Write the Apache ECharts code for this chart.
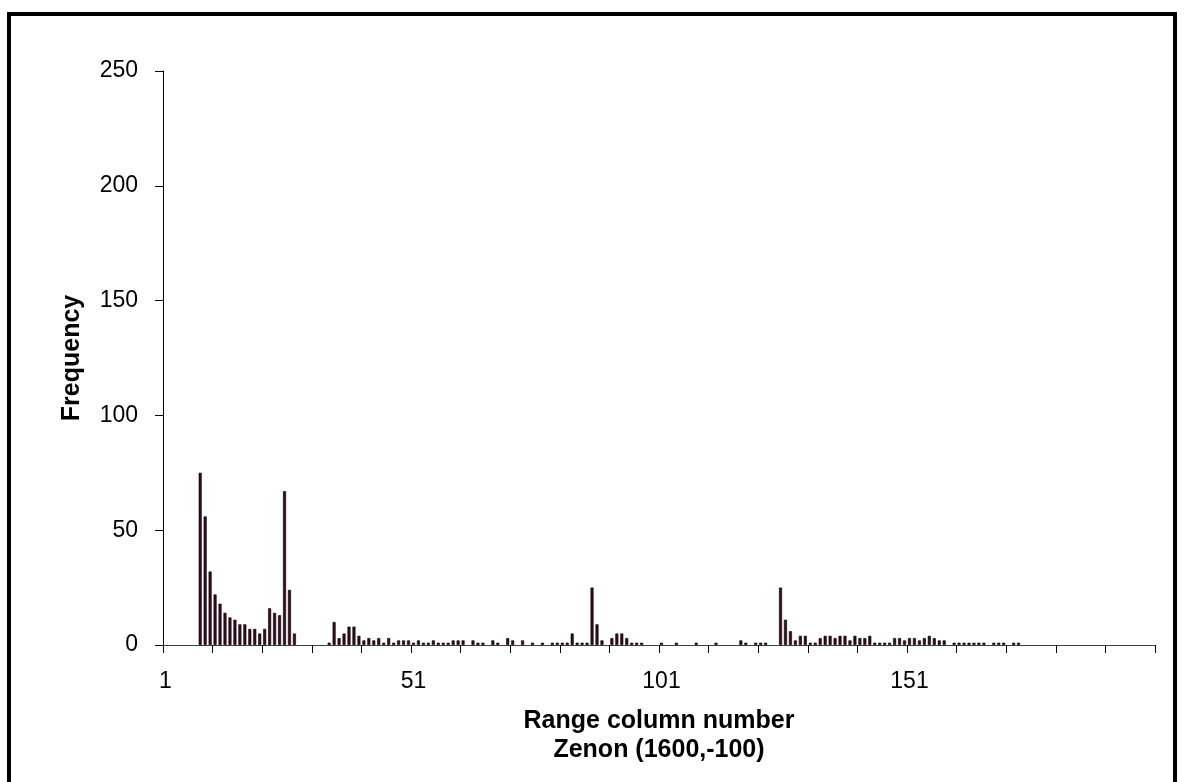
<!DOCTYPE html>
<html>
<head>
<meta charset="utf-8">
<script src="https://cdn.jsdelivr.net/npm/echarts@6/dist/echarts.min.js"></script>
<style>
html,body{margin:0;padding:0;background:#fff;}
#chart{width:1185px;height:782px;}
</style>
</head>
<body>
<div id="chart"></div>
<script>
// Range column numbers 1..200
const categories = Array.from({length: 200}, (_, i) => String(i + 1));

// Frequency values indexed by range column number (sparse listing, rest are 0)
const freqColumns = [
  8, 9, 10, 11, 12, 13, 14, 15, 16, 17, 18, 19, 20, 21, 22, 23, 24, 25, 26, 27,
  34, 35, 36, 37, 38, 39, 40, 41, 42, 43, 44, 45, 46, 47, 48, 49, 50,
  51, 52, 53, 54, 55, 56, 57, 58, 59, 60, 61, 63, 64, 65, 67, 68, 70, 71, 73,
  75, 77, 79, 80, 81, 82, 83, 84, 85, 86, 87, 88, 89, 91, 92, 93, 94, 95, 96, 97,
  101, 104, 108, 112, 117, 118, 120, 121, 122,
  125, 126, 127, 128, 129, 130, 131, 132, 133, 134, 135, 136, 137, 138, 139, 140,
  141, 142, 143, 144, 145, 146, 147, 148, 149, 150, 151, 152, 153, 154, 155, 156, 157, 158,
  160, 161, 162, 163, 164, 165, 166, 168, 169, 170, 172, 173
];
const freqValues = [
  75, 56, 32, 22, 18, 14, 12, 11, 9, 9, 7, 7, 5, 7, 16, 14, 13, 67, 24, 5,
  1, 10, 3, 5, 8, 8, 4, 2, 3, 2, 3, 1, 3, 1, 2, 2, 2,
  1, 2, 1, 1, 2, 1, 1, 1, 2, 2, 2, 2, 1, 1, 2, 1, 3, 2, 2,
  1, 1, 1, 1, 1, 1, 5, 1, 1, 1, 25, 9, 2, 3, 5, 5, 3, 1, 1, 1,
  1, 1, 1, 1, 2, 1, 1, 1, 1,
  25, 11, 6, 2, 4, 4, 1, 1, 3, 4, 4, 3, 4, 4, 2, 4,
  3, 3, 4, 1, 1, 1, 1, 3, 3, 2, 3, 3, 2, 3, 4, 3, 2, 2,
  1, 1, 1, 1, 1, 1, 1, 1, 1, 1, 1, 1
];

const yTicks = [0, 50, 100, 150, 200, 250];

const series = categories.map(() => '-');
freqColumns.forEach((c, i) => { series[c - 1] = freqValues[i]; });

const chart = echarts.init(document.getElementById('chart'), null, {renderer: 'canvas'});
const FONT = '"Liberation Sans", Arial, sans-serif';
chart.setOption({
  animation: false,
  backgroundColor: '#fff',
  grid: {left: 163, right: 30, top: 71, bottom: 137, containLabel: false},
  xAxis: {
    type: 'category',
    data: categories,
    boundaryGap: true,
    axisLine: {lineStyle: {color: '#404040', width: 1}},
    axisTick: {show: true, interval: 9, length: 8, lineStyle: {color: '#000'}},
    axisLabel: {interval: 49, color: '#000', fontSize: 23, fontFamily: FONT, margin: 25},
    splitLine: {show: false}
  },
  yAxis: {
    type: 'value',
    min: yTicks[0],
    max: yTicks[yTicks.length - 1],
    interval: 50,
    axisLine: {show: true, lineStyle: {color: '#000', width: 1}},
    axisTick: {show: true, length: 8, lineStyle: {color: '#000'}},
    axisLabel: {color: '#000', fontSize: 23, fontFamily: FONT, margin: 25},
    splitLine: {show: false},
    name: 'Frequency',
    nameLocation: 'middle',
    nameRotate: 90,
    nameGap: 78,
    nameTextStyle: {color: '#000', fontSize: 25, fontWeight: 'bold', fontFamily: FONT}
  },
  series: [{
    type: 'bar',
    data: series,
    barWidth: 3,
    itemStyle: {color: '#3a0a1e', borderColor: '#000', borderWidth: 0.6}
  }],
  graphic: [
    {type: 'rect', shape: {x: 9, y: 14, width: 1166, height: 820}, style: {fill: 'none', stroke: '#000', lineWidth: 4}, silent: true},
    {type: 'text', x: 659, y: 721, style: {text: 'Range column number', font: 'bold 25px ' + FONT, fill: '#000', textAlign: 'center', textVerticalAlign: 'middle'}},
    {type: 'text', x: 659, y: 750, style: {text: 'Zenon (1600,-100)', font: 'bold 25px ' + FONT, fill: '#000', textAlign: 'center', textVerticalAlign: 'middle'}}
  ]
});
</script>
</body>
</html>
